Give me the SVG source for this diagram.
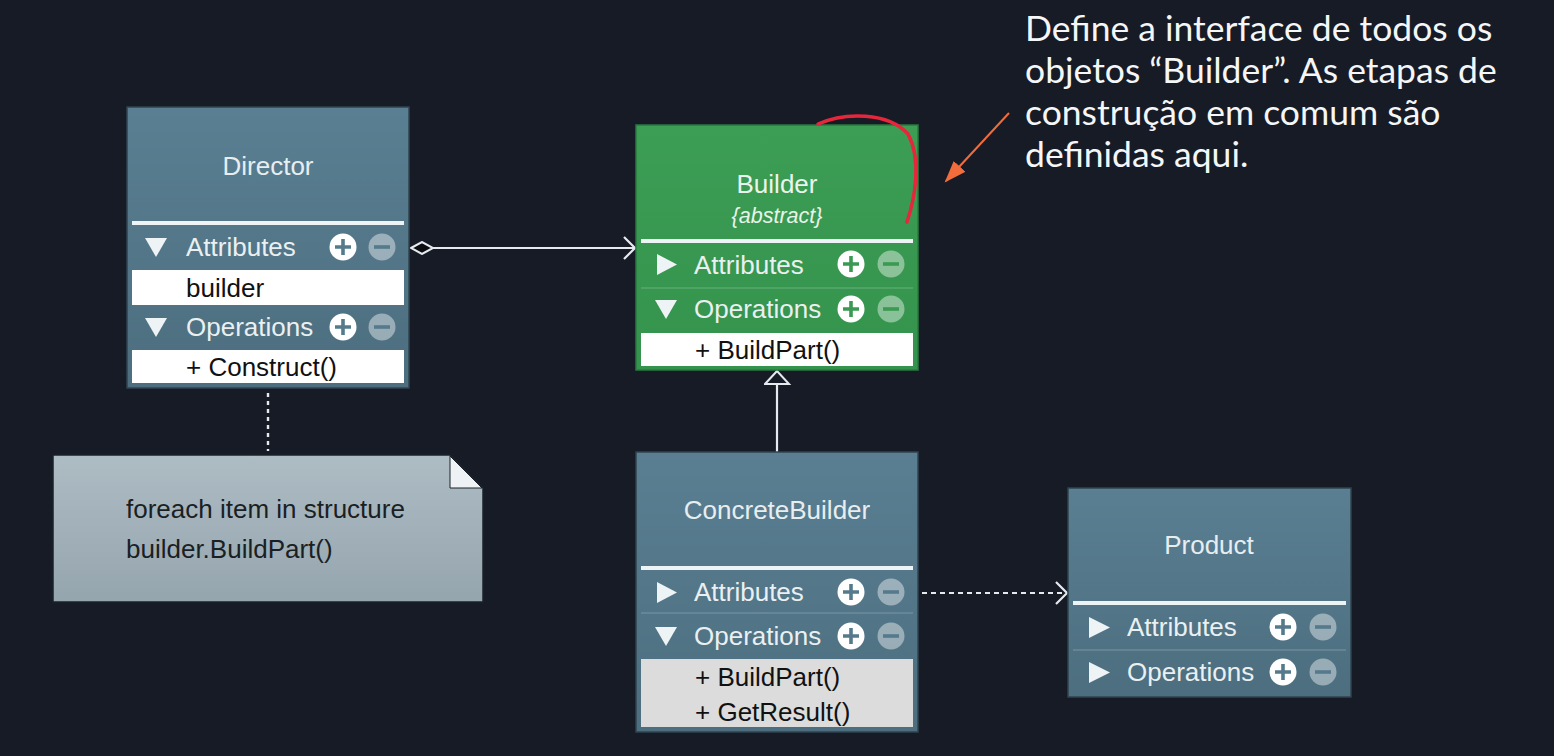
<svg xmlns="http://www.w3.org/2000/svg" width="1554" height="756" viewBox="0 0 1554 756">
<defs>
<style>
.t{font-family:"Liberation Sans",Arial,sans-serif;fill:#eaf0f2;font-size:26px}
.title{font-family:"Liberation Sans",Arial,sans-serif;fill:#e8eef0;font-size:26px;text-anchor:middle}
.it{font-family:"Liberation Sans",Arial,sans-serif;fill:#e8f4ea;font-size:21.5px;font-style:italic;text-anchor:middle}
.dk{font-family:"Liberation Sans",Arial,sans-serif;fill:#111;font-size:26px}
.note{font-family:"Liberation Sans",Arial,sans-serif;fill:#1a1f24;font-size:26px}
.ann{font-family:Lato,"Open Sans",sans-serif;fill:#f4f6f8;font-size:35.5px}
.sep{stroke:#eef3f5;stroke-width:4}
.div{stroke-width:1;opacity:0.35;stroke:#c8dce4}
.tri{fill:#eef3f5}
.pl{fill:#ffffff}
.mi{fill:#ffffff;fill-opacity:0.42}
.bl{stroke:#557a8c;stroke-width:3.6}
.gl{stroke:#3a9a52;stroke-width:3.6}
.con{stroke:#e6eaee;stroke-width:2.2;fill:none}
</style>
<linearGradient id="gBlue" x1="0" y1="0" x2="0" y2="1">
<stop offset="0" stop-color="#5a7f92"/>
<stop offset="1" stop-color="#4c6e7f"/>
</linearGradient>
<linearGradient id="gGreen" x1="0" y1="0" x2="0" y2="1">
<stop offset="0" stop-color="#3c9d55"/>
<stop offset="1" stop-color="#34934c"/>
</linearGradient>
<linearGradient id="gNote" x1="0" y1="0" x2="0" y2="1">
<stop offset="0" stop-color="#aebcc4"/>
<stop offset="1" stop-color="#95a5ae"/>
</linearGradient>
<marker id="open" markerWidth="14" markerHeight="24" refX="12" refY="12" orient="auto" markerUnits="userSpaceOnUse">
<path d="M1,1 L12,12 L1,23" fill="none" stroke="#e6eaee" stroke-width="2.2"/>
</marker>
<marker id="diamond" markerWidth="26" markerHeight="14" refX="1" refY="7" orient="auto" markerUnits="userSpaceOnUse">
<path d="M1,7 L12,1 L23,7 L12,13 Z" fill="#0a0c10" stroke="#e6eaee" stroke-width="2"/>
</marker>
<marker id="gen" markerWidth="16" markerHeight="28" refX="14" refY="13" orient="auto" markerUnits="userSpaceOnUse">
<path d="M1,1 L14,13 L1,25 Z" fill="#171b25" stroke="#e6eaee" stroke-width="2"/>
</marker>
<marker id="orange" markerWidth="24" markerHeight="20" refX="20" refY="10" orient="auto" markerUnits="userSpaceOnUse">
<path d="M0,2 L22,10 L0,18 Z" fill="#f26c3c"/>
</marker>
</defs>
<rect x="0" y="0" width="1554" height="756" fill="#171b25"/>

<g id="connectors">
<line x1="268" y1="393" x2="268" y2="451" stroke="#e6eaee" stroke-width="2.4" stroke-dasharray="4,4"/>
<line x1="411" y1="248" x2="635" y2="248" class="con" marker-start="url(#diamond)" marker-end="url(#open)"/>
<line x1="777" y1="452" x2="777" y2="371" class="con" marker-end="url(#gen)"/>
<line x1="922" y1="593" x2="1067" y2="593" class="con" stroke-dasharray="5,4" marker-end="url(#open)"/>
</g>

<g id="director">
<rect x="127" y="107" width="282" height="281" fill="url(#gBlue)" stroke="#2f4450" stroke-width="1.5"/>
<text class="title" x="268" y="175">Director</text>
<line x1="132" y1="223" x2="404" y2="223" class="sep"/>
<polygon class="tri" points="145,238 167,238 156,257"/>
<text class="t" x="186" y="256">Attributes</text>
<circle class="pl" cx="343" cy="247" r="13.5"/>
<path d="M335,247 H351 M343,239 V255" class="bl"/>
<circle class="mi" cx="382" cy="247" r="13.5"/>
<path d="M374,247 H390" class="bl"/>
<rect x="132" y="270" width="272" height="35" fill="#ffffff"/>
<text class="dk" x="186" y="297">builder</text>
<polygon class="tri" points="145,318 167,318 156,337"/>
<text class="t" x="186" y="336">Operations</text>
<circle class="pl" cx="343" cy="327" r="13.5"/>
<path d="M335,327 H351 M343,319 V335" class="bl"/>
<circle class="mi" cx="382" cy="327" r="13.5"/>
<path d="M374,327 H390" class="bl"/>
<rect x="132" y="350" width="272" height="33" fill="#ffffff"/>
<text class="dk" x="186" y="376">+ Construct()</text>
</g>

<g id="note">
<path d="M53,455 H450 L483,488 V602 H53 Z" fill="url(#gNote)" stroke="#1b2229" stroke-width="1.5"/>
<path d="M450,456 V488 H482 Z" fill="#eef2f4" stroke="#1b2229" stroke-width="1"/>
<text class="note" x="126" y="518">foreach item in structure</text>
<text class="note" x="126" y="558">builder.BuildPart()</text>
</g>

<g id="builder">
<rect x="636" y="125" width="282" height="245" fill="url(#gGreen)" stroke="#2a7a40" stroke-width="1.5"/>
<text class="title" x="777" y="193" style="fill:#e9f5ec">Builder</text>
<text class="it" x="777" y="223">{abstract}</text>
<line x1="641" y1="241" x2="913" y2="241" class="sep"/>
<polygon class="tri" points="657,254 657,275 677,264.5"/>
<text class="t" x="694" y="274">Attributes</text>
<circle class="pl" cx="851" cy="264" r="13.5"/>
<path d="M843,264 H859 M851,256 V272" class="gl"/>
<circle class="mi" cx="891" cy="264" r="13.5"/>
<path d="M883,264 H899" class="gl"/>
<line x1="641" y1="288" x2="913" y2="288" class="div" style="stroke:#bfe6c8"/>
<polygon class="tri" points="655,300 677,300 666,319"/>
<text class="t" x="694" y="318">Operations</text>
<circle class="pl" cx="851" cy="309" r="13.5"/>
<path d="M843,309 H859 M851,301 V317" class="gl"/>
<circle class="mi" cx="891" cy="309" r="13.5"/>
<path d="M883,309 H899" class="gl"/>
<rect x="641" y="333" width="272" height="33" fill="#ffffff"/>
<text class="dk" x="695" y="359">+ BuildPart()</text>
</g>

<g id="concretebuilder">
<rect x="636" y="452" width="282" height="280" fill="url(#gBlue)" stroke="#2f4450" stroke-width="1.5"/>
<text class="title" x="777" y="519">ConcreteBuilder</text>
<line x1="641" y1="568" x2="913" y2="568" class="sep"/>
<polygon class="tri" points="657,582 657,603 677,592.5"/>
<text class="t" x="694" y="601">Attributes</text>
<circle class="pl" cx="851" cy="592" r="13.5"/>
<path d="M843,592 H859 M851,584 V600" class="bl"/>
<circle class="mi" cx="891" cy="592" r="13.5"/>
<path d="M883,592 H899" class="bl"/>
<line x1="641" y1="613" x2="913" y2="613" class="div"/>
<polygon class="tri" points="655,627 677,627 666,646"/>
<text class="t" x="694" y="645">Operations</text>
<circle class="pl" cx="851" cy="636" r="13.5"/>
<path d="M843,636 H859 M851,628 V644" class="bl"/>
<circle class="mi" cx="891" cy="636" r="13.5"/>
<path d="M883,636 H899" class="bl"/>
<rect x="641" y="659" width="272" height="68" fill="#dcdcdc"/>
<text class="dk" x="695" y="686">+ BuildPart()</text>
<text class="dk" x="695" y="721">+ GetResult()</text>
</g>

<g id="product">
<rect x="1068" y="488" width="283" height="209" fill="url(#gBlue)" stroke="#2f4450" stroke-width="1.5"/>
<text class="title" x="1209" y="554">Product</text>
<line x1="1073" y1="603" x2="1346" y2="603" class="sep"/>
<polygon class="tri" points="1089,617 1089,638 1110,627.5"/>
<text class="t" x="1127" y="636">Attributes</text>
<circle class="pl" cx="1283" cy="627" r="13.5"/>
<path d="M1275,627 H1291 M1283,619 V635" class="bl"/>
<circle class="mi" cx="1323" cy="627" r="13.5"/>
<path d="M1315,627 H1331" class="bl"/>
<line x1="1073" y1="650" x2="1346" y2="650" class="div"/>
<polygon class="tri" points="1089,662 1089,683 1110,672.5"/>
<text class="t" x="1127" y="681">Operations</text>
<circle class="pl" cx="1283" cy="672" r="13.5"/>
<path d="M1275,672 H1291 M1283,664 V680" class="bl"/>
<circle class="mi" cx="1323" cy="672" r="13.5"/>
<path d="M1315,672 H1331" class="bl"/>
</g>

<g id="annotation">
<path d="M818,124 C 845,112 888,112 908,134 C 922,160 915,198 907,222" fill="none" stroke="#e5263b" stroke-width="3.5" stroke-linecap="round"/>
<line x1="1009" y1="113" x2="946" y2="181" stroke="#f26c3c" stroke-width="2" marker-end="url(#orange)"/>
<text class="ann" x="1025" y="41">Define a interface de todos os</text>
<text class="ann" x="1025" y="83">objetos “Builder”. As etapas de</text>
<text class="ann" x="1025" y="125">construção em comum são</text>
<text class="ann" x="1025" y="167">definidas aqui.</text>
</g>
</svg>
